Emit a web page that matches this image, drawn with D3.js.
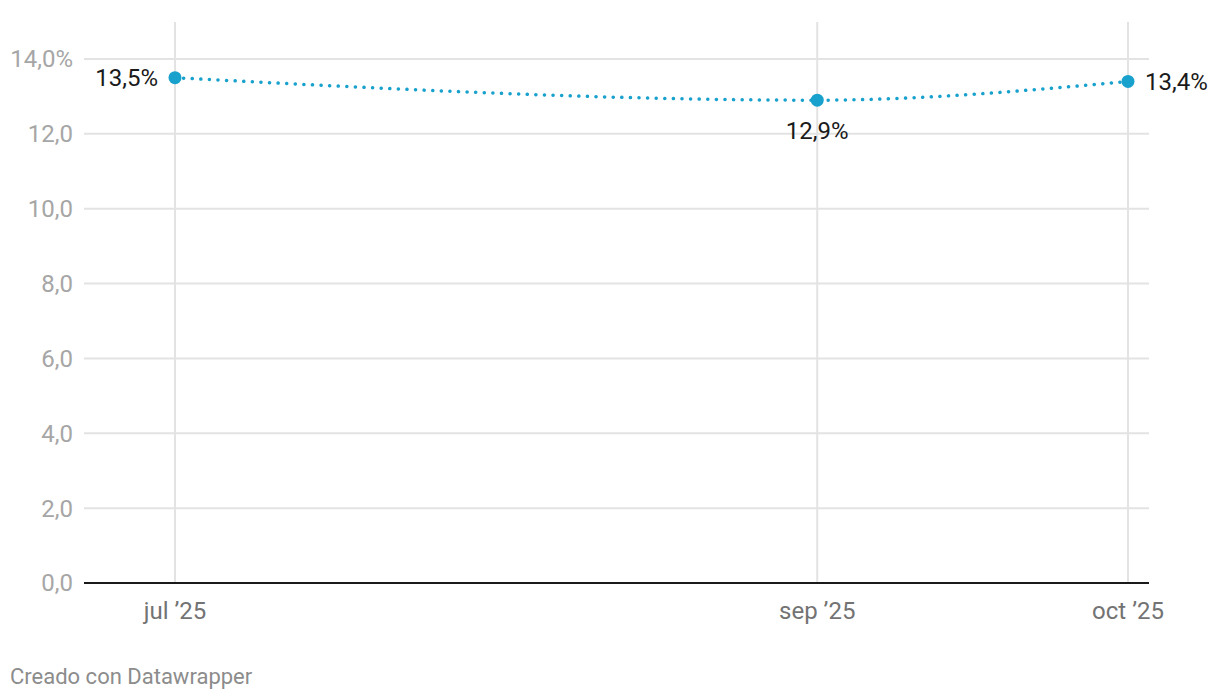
<!DOCTYPE html>
<meta charset="utf-8">
<style>
    body { margin: 0; background: #fff; font-family: Roboto, sans-serif; }
    .grid line { stroke: #e3e3e3; stroke-width: 2px; }
    .ylab { fill: #a6a6a6; font-size: 24px; }
    .xlab { fill: #737373; font-size: 24px; }
    .vlab { fill: #1a1a1a; font-size: 24px; }
    .line { fill: none; stroke: #18a1cd; stroke-width: 3.5px; stroke-dasharray: 0.1 8.5; stroke-linecap: round; }
</style>
<body>
<script src="https://d3js.org/d3.v7.min.js"></script>
<script>
    // data
    var dates = ["2025-07-01", "2025-09-01", "2025-10-01"];
    var values = [13.5, 12.9, 13.4];
    var xTickLabels = ["jul \u201925", "sep \u201925", "oct \u201925"];
    var yTicks = [0, 2, 4, 6, 8, 10, 12, 14];

    var width = 1220, height = 700;
    var plotLeft = 84, plotRight = 1149, plotTop = 22, plotBottom = 583;

    var parseTime = d3.timeParse("%Y-%m-%d");
    var data = dates.map(function(d, i) {
        return { date: parseTime(d), value: values[i], label: xTickLabels[i] };
    });

    var x = d3.scaleTime()
        .domain([data[0].date, data[2].date])
        .range([175, 1128]);
    var y = d3.scaleLinear().domain([0, 14]).range([plotBottom, 59]);

    var svg = d3.select("body").append("svg")
        .attr("width", width)
        .attr("height", height);

    // horizontal grid
    var grid = svg.append("g").attr("class", "grid");
    grid.selectAll(".h").data(yTicks.slice(1)).enter().append("line")
        .attr("x1", plotLeft).attr("x2", plotRight)
        .attr("y1", function(d) { return y(d); })
        .attr("y2", function(d) { return y(d); });
    // vertical grid at data dates
    grid.selectAll(".v").data(data).enter().append("line")
        .attr("x1", function(d) { return x(d.date); })
        .attr("x2", function(d) { return x(d.date); })
        .attr("y1", plotTop).attr("y2", plotBottom);

    // y labels
    svg.selectAll(".ylab").data(yTicks).enter().append("text")
        .attr("class", "ylab")
        .attr("x", 73)
        .attr("y", function(d) { return y(d); })
        .attr("dy", "0.35em")
        .attr("text-anchor", "end")
        .text(function(d) {
            var s = d.toFixed(1).replace(".", ",");
            return d === 14 ? s + "%" : s;
        });

    // baseline
    svg.append("line")
        .attr("x1", plotLeft).attr("x2", plotRight)
        .attr("y1", y(0)).attr("y2", y(0))
        .attr("stroke", "#1a1a1a").attr("stroke-width", 2);

    // x labels
    svg.selectAll(".xlab").data(data).enter().append("text")
        .attr("class", "xlab")
        .attr("x", function(d) { return x(d.date); })
        .attr("y", 619)
        .attr("text-anchor", "middle")
        .text(function(d) { return d.label; });

    // line
    var line = d3.line()
        .curve(d3.curveMonotoneX)
        .x(function(d) { return x(d.date); })
        .y(function(d) { return y(d.value); });
    svg.append("path").datum(data).attr("class", "line").attr("d", line);

    // points
    svg.selectAll(".pt").data(data).enter().append("circle")
        .attr("cx", function(d) { return x(d.date); })
        .attr("cy", function(d) { return y(d.value); })
        .attr("r", 6.5)
        .attr("fill", "#18a1cd");

    // value labels
    var fmt = function(v) { return v.toFixed(1).replace(".", ",") + "%"; };
    var pos = [
        { dx: -17, dy: 0, anchor: "end" },
        { dx: 0, dy: 30, anchor: "middle" },
        { dx: 17, dy: 0, anchor: "start" }
    ];
    svg.selectAll(".vlab").data(data).enter().append("text")
        .attr("class", "vlab")
        .attr("x", function(d, i) { return x(d.date) + pos[i].dx; })
        .attr("y", function(d, i) { return y(d.value) + pos[i].dy; })
        .attr("dy", "0.35em")
        .attr("text-anchor", function(d, i) { return pos[i].anchor; })
        .text(function(d) { return fmt(d.value); });

    // footer
    svg.append("text")
        .attr("x", 10).attr("y", 684)
        .attr("fill", "#8c8c8c")
        .style("font-size", "22px")
        .text("Creado con Datawrapper");
</script>
</body>
